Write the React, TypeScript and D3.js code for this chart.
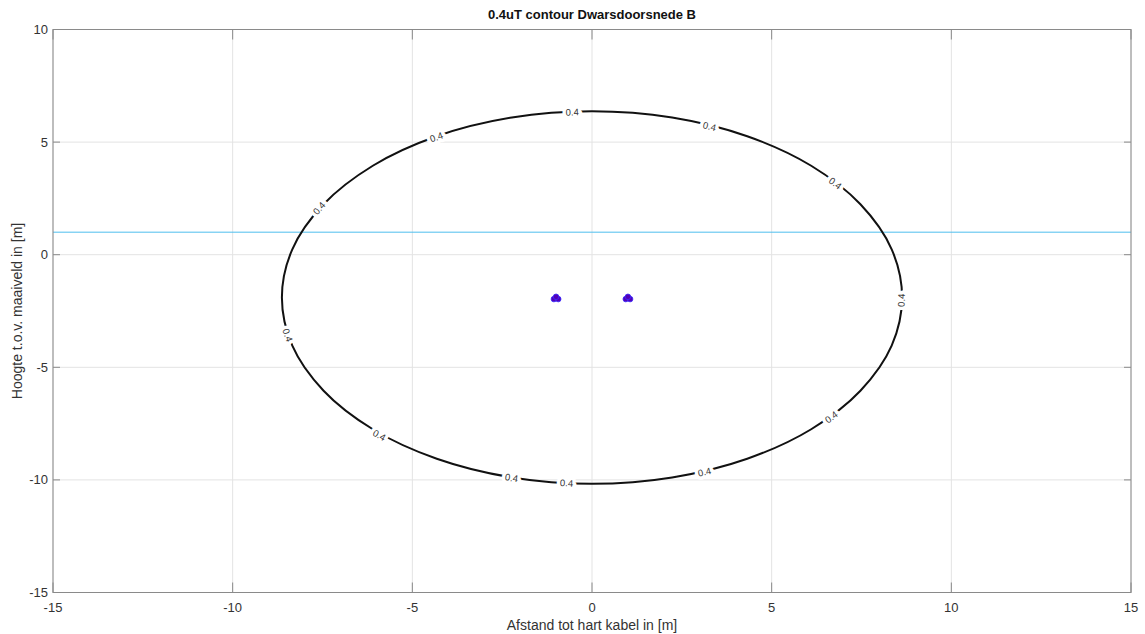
import React, { useRef, useEffect } from "react";
import * as d3 from "d3";

// 0.4 uT contour (x in m, y in m), clockwise from the top
const contourX = [0, 2.23, 4.32, 6.1, 7.47, 8.34, 8.63, 8.34, 7.47, 6.1, 4.32, 2.23, 0, -2.23, -4.32, -6.1, -7.47, -8.34, -8.63, -8.34, -7.47, -6.1, -4.32, -2.23];
const contourY = [6.37, 6.09, 5.26, 3.95, 2.24, 0.24, -1.9, -4.04, -6.04, -7.75, -9.06, -9.89, -10.17, -9.89, -9.06, -7.75, -6.04, -4.04, -1.9, 0.24, 2.24, 3.95, 5.26, 6.09];

// contour label positions
const labelX = [-0.55, -4.33, -7.59, -8.47, -5.92, -2.24, -0.71, 3.13, 6.66, 8.61, 6.77, 3.27];
const labelY = [6.33, 5.22, 2.06, -3.57, -8.02, -9.91, -10.14, -9.65, -7.21, -2.02, 3.17, 5.7];
const labelText = "0.4";

// cable conductors (trefoil)
const condX = [-1.06, -0.94, -1.0, 0.94, 1.06, 1.0];
const condY = [-1.97, -1.97, -1.87, -1.97, -1.97, -1.87];

// ground level line
const groundY = 1.0;

const xTicks = [-15, -10, -5, 0, 5, 10, 15];
const yTicks = [-15, -10, -5, 0, 5, 10];

const title = "0.4uT contour Dwarsdoorsnede B";
const xLabel = "Afstand tot hart kabel in [m]";
const yLabel = "Hoogte t.o.v. maaiveld in [m]";

const ChartComponent = () => {
  const chartRef = useRef(null);

  useEffect(() => {
    const width = 1145;
    const height = 634;
    const left = 53, right = 1131, top = 29.5, bottom = 592.5;
    const font = "Arial, 'Liberation Sans', Helvetica, sans-serif";

    const svg = d3
      .select(chartRef.current)
      .append("svg")
      .attr("width", width)
      .attr("height", height)
      .style("position", "absolute")
      .style("left", "0px")
      .style("top", "0px")
      .style("background", "#fff");

    const x = d3.scaleLinear().domain([-15, 15]).range([left, right]);
    const y = d3.scaleLinear().domain([-15, 10]).range([bottom, top]);

    // grid
    svg.append("g")
      .selectAll("line")
      .data(xTicks)
      .enter()
      .append("line")
      .attr("x1", (d) => x(d)).attr("x2", (d) => x(d))
      .attr("y1", top).attr("y2", bottom)
      .attr("stroke", "#e3e3e3").attr("stroke-width", 1);
    svg.append("g")
      .selectAll("line")
      .data(yTicks)
      .enter()
      .append("line")
      .attr("x1", left).attr("x2", right)
      .attr("y1", (d) => y(d)).attr("y2", (d) => y(d))
      .attr("stroke", "#e3e3e3").attr("stroke-width", 1);

    // ground level
    svg.append("line")
      .attr("x1", left).attr("x2", right)
      .attr("y1", y(groundY)).attr("y2", y(groundY))
      .attr("stroke", "#4dbeee").attr("stroke-width", 1);

    // contour
    const pts = contourX.map((d, i) => [d, contourY[i]]);
    const line = d3.line()
      .x((d) => x(d[0]))
      .y((d) => y(d[1]))
      .curve(d3.curveCatmullRomClosed.alpha(0.5));
    svg.append("path")
      .attr("d", line(pts))
      .attr("fill", "none")
      .attr("stroke", "#111")
      .attr("stroke-width", 2);

    // contour labels, rotated along the curve
    const cx = x(0), cy = y(-1.9);
    const a = x(8.63) - x(0), b = y(-1.9) - y(6.37);
    labelX.forEach((lx, i) => {
      const px = x(lx), py = y(labelY[i]);
      const dx = px - cx, dy = py - cy;
      let ang = (Math.atan2(dx / (a * a), -dy / (b * b)) * 180) / Math.PI;
      if (ang > 85) ang -= 180;
      if (ang < -95) ang += 180;
      svg.append("text")
        .attr("transform", `translate(${px},${py}) rotate(${ang})`)
        .attr("text-anchor", "middle")
        .attr("dy", "0.35em")
        .attr("font-family", font)
        .attr("font-size", 9.5)
        .attr("fill", "#333")
        .attr("stroke", "#fff")
        .attr("stroke-width", 7)
        .attr("stroke-linejoin", "round")
        .attr("paint-order", "stroke")
        .text(labelText);
    });

    // cables
    svg.append("g")
      .selectAll("circle")
      .data(condX)
      .enter()
      .append("circle")
      .attr("cx", (d) => x(d))
      .attr("cy", (d, i) => y(condY[i]))
      .attr("r", 2.8)
      .attr("fill", "#5200b8")
      .attr("stroke", "#3a2cff")
      .attr("stroke-width", 0.8);

    // box
    svg.append("rect")
      .attr("x", left).attr("y", top)
      .attr("width", right - left).attr("height", bottom - top)
      .attr("fill", "none")
      .attr("stroke", "#8a8a8a").attr("stroke-width", 1);

    // ticks (inward, all sides)
    const tickColor = "#8a8a8a";
    xTicks.forEach((t) => {
      svg.append("line").attr("x1", x(t)).attr("x2", x(t)).attr("y1", bottom).attr("y2", bottom - 10).attr("stroke", tickColor);
      svg.append("line").attr("x1", x(t)).attr("x2", x(t)).attr("y1", top).attr("y2", top + 10).attr("stroke", tickColor);
    });
    yTicks.forEach((t) => {
      svg.append("line").attr("x1", left).attr("x2", left + 7).attr("y1", y(t)).attr("y2", y(t)).attr("stroke", tickColor);
      svg.append("line").attr("x1", right).attr("x2", right - 7).attr("y1", y(t)).attr("y2", y(t)).attr("stroke", tickColor);
    });

    // tick labels
    svg.append("g")
      .selectAll("text")
      .data(xTicks)
      .enter()
      .append("text")
      .attr("x", (d) => x(d))
      .attr("y", bottom + 19)
      .attr("text-anchor", "middle")
      .attr("font-family", font)
      .attr("font-size", 13)
      .attr("fill", "#333")
      .text((d) => d);
    svg.append("g")
      .selectAll("text")
      .data(yTicks)
      .enter()
      .append("text")
      .attr("x", left - 5)
      .attr("y", (d) => y(d))
      .attr("dy", "0.35em")
      .attr("text-anchor", "end")
      .attr("font-family", font)
      .attr("font-size", 13)
      .attr("fill", "#333")
      .text((d) => d);

    // titles
    svg.append("text")
      .attr("x", (left + right) / 2)
      .attr("y", 19)
      .attr("text-anchor", "middle")
      .attr("font-family", font)
      .attr("font-size", 13)
      .attr("font-weight", "bold")
      .attr("fill", "#111")
      .text(title);
    svg.append("text")
      .attr("x", (left + right) / 2)
      .attr("y", 630)
      .attr("text-anchor", "middle")
      .attr("font-family", font)
      .attr("font-size", 14)
      .attr("fill", "#333")
      .text(xLabel);
    svg.append("text")
      .attr("transform", `translate(22,${(top + bottom) / 2}) rotate(-90)`)
      .attr("text-anchor", "middle")
      .attr("font-family", font)
      .attr("font-size", 14)
      .attr("fill", "#333")
      .text(yLabel);

    return () => {
      svg.remove();
    };
  }, []);

  return <div ref={chartRef} />;
};

export default function App() {
  return <ChartComponent />;
}
